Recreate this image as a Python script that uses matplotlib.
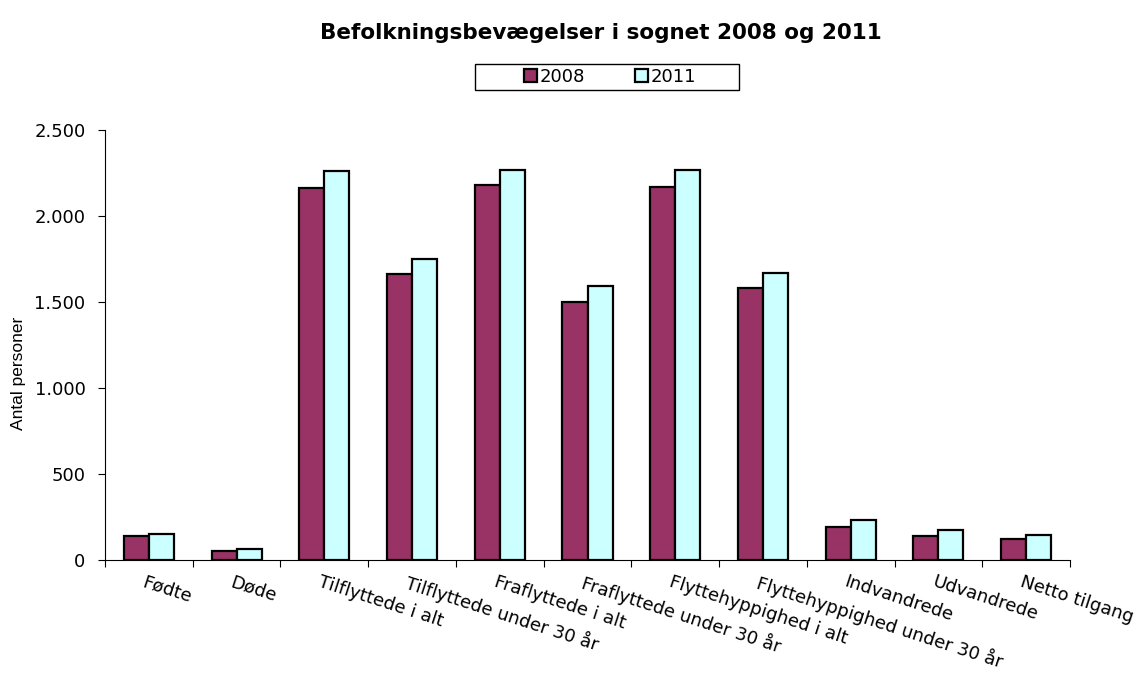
import numpy as np
import matplotlib.pyplot as plt
from matplotlib.patches import Rectangle
from matplotlib.ticker import FuncFormatter

plt.rcParams['font.family'] = ['DejaVu Sans']

categories = ["Fødte", "Døde", "Tilflyttede i alt", "Tilflyttede under 30 år",
              "Fraflyttede i alt", "Fraflyttede under 30 år", "Flyttehyppighed i alt",
              "Flyttehyppighed under 30 år", "Indvandrede", "Udvandrede", "Netto tilgang"]
v2008 = [140, 52, 2160, 1663, 2180, 1502, 2170, 1583, 192, 141, 124]
v2011 = [151, 64, 2262, 1750, 2267, 1591, 2266, 1670, 234, 174, 145]

W, H = 1137, 680
fig = plt.figure(figsize=(W / 100, H / 100), dpi=100)
ax = fig.add_axes([105 / W, 1 - 560 / H, 965 / W, 430 / H])

x = np.arange(len(categories))
w = 0.285
ax.bar(x - w/2, v2008, w, color='#993366', edgecolor='black', linewidth=1.6, label='2008', zorder=3)
ax.bar(x + w/2, v2011, w, color='#CCFFFF', edgecolor='black', linewidth=1.6, label='2011', zorder=3)

ax.set_xlim(-0.5, len(categories) - 0.5)
ax.set_ylim(0, 2500)
ax.set_yticks(range(0, 2501, 500))
ax.yaxis.set_major_formatter(FuncFormatter(lambda v, p: f"{int(v):,}".replace(",", ".")))
ax.tick_params(axis='y', labelsize=13, length=5, direction='out', pad=9)

# ticks between categories, labels at the centres
ax.set_xticks(np.arange(-0.5, len(categories), 1))
ax.set_xticklabels([])
ax.tick_params(axis='x', length=5, direction='out')
for i, c in enumerate(categories):
    ax.text(i - 0.03, -75, c, rotation=-18, rotation_mode='anchor', ha='left', va='top',
            fontsize=13)

for s in ['top', 'right']:
    ax.spines[s].set_visible(False)

fig.text(19 / W, 1 - 373 / H, "Antal personer", rotation=90, ha='center', va='center',
         fontsize=12.5, family='Liberation Sans')
fig.text(601 / W, 1 - 33 / H, "Befolkningsbevægelser i sognet 2008 og 2011", ha='center', va='center',
         fontsize=15.5, fontweight='bold')

leg = ax.legend(loc='center', bbox_to_anchor=(610 / W, 1 - 77 / H), bbox_transform=fig.transFigure,
                ncol=2, fontsize=13, frameon=False,
                handlelength=0.7, handleheight=0.7, handletextpad=0.15, columnspacing=2.8,
                borderpad=0.2)
fig.add_artist(Rectangle((475 / W, 1 - 90 / H), 264 / W, 26 / H, transform=fig.transFigure,
                         fill=False, edgecolor='black', linewidth=1.0))

fig.savefig("out.png", dpi=100)
